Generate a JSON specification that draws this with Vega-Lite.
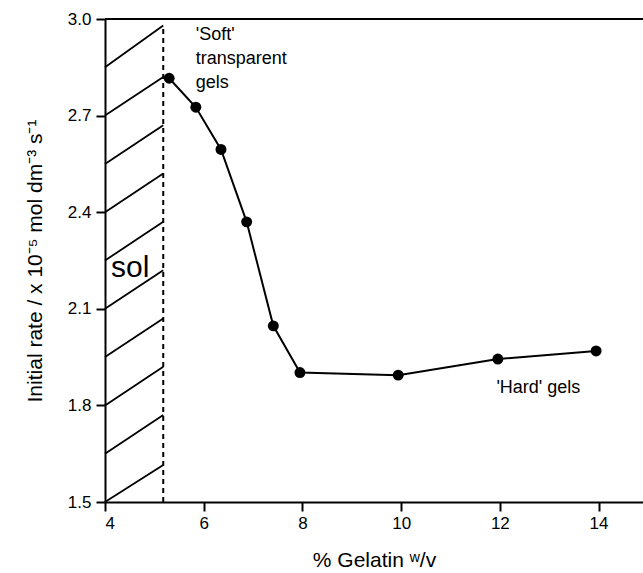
{
  "$schema": "https://vega.github.io/schema/vega-lite/v6.json",
  "width": 538,
  "height": 483,
  "autosize": {"type": "none"},
  "padding": {"left": 105, "top": 19, "right": 0, "bottom": 71},
  "background": "white",
  "config": {
    "font": "Liberation Sans",
    "view": {"stroke": null},
    "axis": {
      "grid": false,
      "domainColor": "black",
      "domainWidth": 2,
      "tickColor": "black",
      "tickWidth": 2,
      "tickSize": 9,
      "labelColor": "black",
      "labelFontSize": 17,
      "labelFont": "Liberation Sans",
      "titleColor": "black",
      "titleFont": "Liberation Sans",
      "titleFontSize": 21,
      "titleFontWeight": "normal"
    }
  },
  "datasets": {
    "rate": [
      {"gelatin": 5.30, "rate": 2.816},
      {"gelatin": 5.84, "rate": 2.726},
      {"gelatin": 6.35, "rate": 2.595},
      {"gelatin": 6.87, "rate": 2.370},
      {"gelatin": 7.41, "rate": 2.047},
      {"gelatin": 7.95, "rate": 1.902},
      {"gelatin": 9.94, "rate": 1.894},
      {"gelatin": 11.96, "rate": 1.944},
      {"gelatin": 13.95, "rate": 1.969}
    ],
    "hatch": [
      {"x1": 4, "y1": 1.50, "x2": 5.18, "y2": 1.615},
      {"x1": 4, "y1": 1.65, "x2": 5.18, "y2": 1.77},
      {"x1": 4, "y1": 1.80, "x2": 5.18, "y2": 1.92},
      {"x1": 4, "y1": 1.95, "x2": 5.18, "y2": 2.07},
      {"x1": 4, "y1": 2.10, "x2": 5.18, "y2": 2.22},
      {"x1": 4, "y1": 2.25, "x2": 5.18, "y2": 2.37},
      {"x1": 4, "y1": 2.40, "x2": 5.18, "y2": 2.52},
      {"x1": 4, "y1": 2.55, "x2": 5.18, "y2": 2.67},
      {"x1": 4, "y1": 2.70, "x2": 5.18, "y2": 2.82},
      {"x1": 4, "y1": 2.85, "x2": 5.18, "y2": 2.98}
    ],
    "boundary": [
      {"x": 5.18, "ybot": 1.5, "ytop": 2.98}
    ],
    "frame": [
      {"x1": 4, "x2": 14.9, "y": 3.0}
    ],
    "labels": [
      {"x": 5.84, "y": 2.950, "text": "'Soft'"},
      {"x": 5.84, "y": 2.876, "text": "transparent"},
      {"x": 5.84, "y": 2.801, "text": "gels"},
      {"x": 11.93, "y": 1.854, "text": "'Hard' gels"}
    ]
  },
  "layer": [
    {
      "data": {"name": "hatch"},
      "mark": {"type": "rule", "color": "black", "strokeWidth": 1.8},
      "encoding": {
        "x": {"field": "x1", "type": "quantitative", "scale": {"domain": [4, 14.9], "nice": false, "zero": false},
          "axis": {"values": [4, 6, 8, 10, 12, 14], "title": "% Gelatin ʷ/v", "titlePadding": 18, "labelPadding": 4}},
        "y": {"field": "y1", "type": "quantitative", "scale": {"domain": [1.5, 3.0], "nice": false, "zero": false},
          "axis": {"values": [1.5, 1.8, 2.1, 2.4, 2.7, 3.0], "format": ".1f", "title": "Initial rate / x 10⁻⁵ mol dm⁻³ s⁻¹", "titlePadding": 22, "labelPadding": 5}},
        "x2": {"field": "x2"},
        "y2": {"field": "y2"}
      }
    },
    {
      "data": {"name": "frame"},
      "mark": {"type": "rule", "color": "black", "strokeWidth": 2},
      "encoding": {
        "x": {"field": "x1", "type": "quantitative"},
        "x2": {"field": "x2"},
        "y": {"field": "y", "type": "quantitative"}
      }
    },
    {
      "data": {"name": "boundary"},
      "mark": {"type": "rule", "color": "black", "strokeWidth": 2, "strokeDash": [5, 4]},
      "encoding": {
        "x": {"field": "x", "type": "quantitative"},
        "y": {"field": "ybot", "type": "quantitative"},
        "y2": {"field": "ytop"}
      }
    },
    {
      "data": {"name": "rate"},
      "mark": {"type": "line", "color": "black", "strokeWidth": 2},
      "encoding": {
        "x": {"field": "gelatin", "type": "quantitative"},
        "y": {"field": "rate", "type": "quantitative"}
      }
    },
    {
      "data": {"name": "rate"},
      "mark": {"type": "point", "filled": true, "color": "black", "opacity": 1, "size": 120},
      "encoding": {
        "x": {"field": "gelatin", "type": "quantitative"},
        "y": {"field": "rate", "type": "quantitative"}
      }
    },
    {
      "data": {"name": "labels"},
      "mark": {"type": "text", "align": "left", "baseline": "middle", "color": "black", "fontSize": 18, "font": "Liberation Sans"},
      "encoding": {
        "x": {"field": "x", "type": "quantitative"},
        "y": {"field": "y", "type": "quantitative"},
        "text": {"field": "text"}
      }
    },
    {
      "data": {"values": [{"x": 4.51, "y": 2.228, "text": "sol"}]},
      "mark": {"type": "text", "align": "center", "baseline": "middle", "color": "black", "fontSize": 30, "font": "Liberation Sans"},
      "encoding": {
        "x": {"field": "x", "type": "quantitative"},
        "y": {"field": "y", "type": "quantitative"},
        "text": {"field": "text"}
      }
    }
  ]
}
